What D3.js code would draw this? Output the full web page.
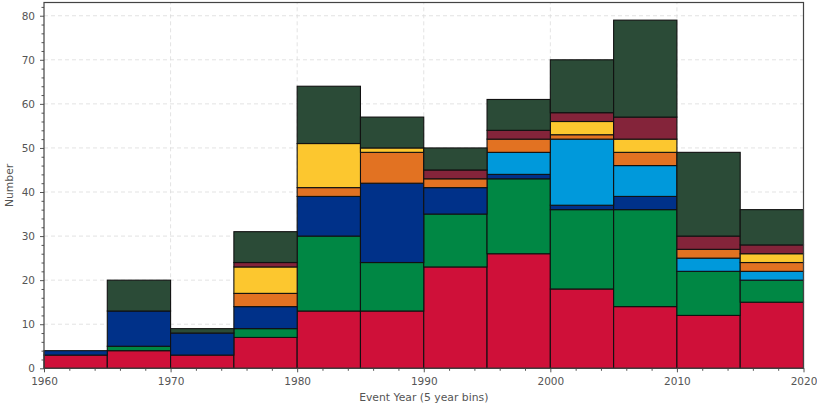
<!DOCTYPE html>
<html>
<head>
<meta charset="utf-8">
<script src="https://cdn.jsdelivr.net/npm/d3@7"></script>
<style>
  html, body { margin: 0; padding: 0; background: #fff; }
  svg { display: block; font-family: "DejaVu Sans", sans-serif; }
</style>
</head>
<body>
<svg id="chart" width="817" height="409"></svg>
<script>
// Bin start years (5-year bins)
const binStarts = [1960, 1965, 1970, 1975, 1980, 1985, 1990, 1995, 2000, 2005, 2010, 2015];
const binWidth = 5;

// Counts per category for each bin, in stacking order (bottom to top)
const seriesRed       = [3, 4, 3, 7, 13, 13, 23, 26, 18, 14, 12, 15];
const seriesGreen     = [0, 1, 0, 2, 17, 11, 12, 17, 18, 22, 10, 5];
const seriesNavy      = [1, 8, 5, 5, 9, 18, 6, 1, 1, 3, 0, 0];
const seriesLightBlue = [0, 0, 0, 0, 0, 0, 0, 5, 15, 7, 3, 2];
const seriesOrange    = [0, 0, 0, 3, 2, 7, 2, 3, 1, 3, 2, 2];
const seriesYellow    = [0, 0, 0, 6, 10, 1, 0, 0, 3, 3, 0, 2];
const seriesMaroon    = [0, 0, 0, 1, 0, 0, 2, 2, 2, 5, 3, 2];
const seriesDarkGreen = [0, 7, 1, 7, 13, 7, 5, 7, 12, 22, 19, 8];

const seriesList = [seriesRed, seriesGreen, seriesNavy, seriesLightBlue,
                    seriesOrange, seriesYellow, seriesMaroon, seriesDarkGreen];
const seriesColors = ["#cf1039", "#008744", "#003189", "#0099db",
                      "#e27222", "#fcc72f", "#84243a", "#2b4b37"];

const xTicks = [1960, 1970, 1980, 1990, 2000, 2010, 2020];
const yTicks = [0, 10, 20, 30, 40, 50, 60, 70, 80];

const svg = d3.select("#chart");
const margin = { left: 44, right: 13.5, top: 2.5, bottom: 40.7 };
const W = 817, H = 409;

const x = d3.scaleLinear().domain([1960, 2020]).range([margin.left, W - margin.right]);
const y = d3.scaleLinear().domain([0, 83]).range([H - margin.bottom, margin.top]);

// Grid lines
const grid = svg.append("g").attr("stroke", "#dcdcdc").attr("stroke-dasharray", "4,3").attr("stroke-width", 0.8);
grid.selectAll("line.gx").data(xTicks.slice(1, -1)).join("line")
  .attr("x1", d => x(d)).attr("x2", d => x(d))
  .attr("y1", y.range()[0]).attr("y2", y.range()[1]);
grid.selectAll("line.gy").data(yTicks.slice(1)).join("line")
  .attr("x1", x.range()[0]).attr("x2", x.range()[1])
  .attr("y1", d => y(d)).attr("y2", d => y(d));

// Stacked layout
const rows = binStarts.map((b, i) => {
  const r = { bin: b };
  seriesList.forEach((s, k) => { r["s" + k] = s[i]; });
  return r;
});
const keys = seriesList.map((_, k) => "s" + k);
const stacked = d3.stack().keys(keys)(rows);

const bars = svg.append("g");
stacked.forEach((layer, k) => {
  bars.append("g")
    .attr("fill", seriesColors[k])
    .attr("stroke", "#111")
    .attr("stroke-width", 1.1)
    .selectAll("rect")
    .data(layer.filter(d => d[1] - d[0] > 0))
    .join("rect")
      .attr("x", d => x(d.data.bin))
      .attr("width", d => x(d.data.bin + binWidth) - x(d.data.bin))
      .attr("y", d => y(d[1]))
      .attr("height", d => y(d[0]) - y(d[1]));
});

// Axes
const tickColor = "#555";
const xAxis = svg.append("g").attr("transform", `translate(0,${y(0)})`)
  .call(d3.axisBottom(x).tickValues(xTicks).tickFormat(d3.format("d")).tickSize(4).tickPadding(5.5));
const xMinor = svg.append("g").attr("transform", `translate(0,${y(0)})`)
  .call(d3.axisBottom(x).tickValues(d3.range(1962, 2020, 2).filter(v => v % 10 !== 0)).tickFormat("").tickSize(2.5));
const yAxis = svg.append("g").attr("transform", `translate(${x(1960)},0)`)
  .call(d3.axisLeft(y).tickValues(yTicks).tickSize(4).tickPadding(5));
const yMinor = svg.append("g").attr("transform", `translate(${x(1960)},0)`)
  .call(d3.axisLeft(y).tickValues(d3.range(2, 83, 2).filter(v => v % 10 !== 0)).tickFormat("").tickSize(2.5));

[xAxis, xMinor, yAxis, yMinor].forEach(g => {
  g.select(".domain").remove();
  g.selectAll("line").attr("stroke", tickColor).attr("stroke-width", 1);
  g.selectAll("text").attr("fill", tickColor).attr("font-size", 10.5)
    .attr("font-family", "DejaVu Sans, sans-serif");
});

// Frame
svg.append("rect")
  .attr("x", x.range()[0]).attr("y", y.range()[1])
  .attr("width", x.range()[1] - x.range()[0])
  .attr("height", y.range()[0] - y.range()[1])
  .attr("fill", "none").attr("stroke", "#444").attr("stroke-width", 1.2);

// Axis titles
svg.append("text")
  .attr("x", (x.range()[0] + x.range()[1]) / 2).attr("y", 401)
  .attr("text-anchor", "middle").attr("font-size", 10.8).attr("fill", tickColor)
  .text("Event Year (5 year bins)");
svg.append("text")
  .attr("transform", `translate(13,${(y.range()[0] + y.range()[1]) / 2}) rotate(-90)`)
  .attr("text-anchor", "middle").attr("font-size", 10.8).attr("fill", tickColor)
  .text("Number");
</script>
</body>
</html>
